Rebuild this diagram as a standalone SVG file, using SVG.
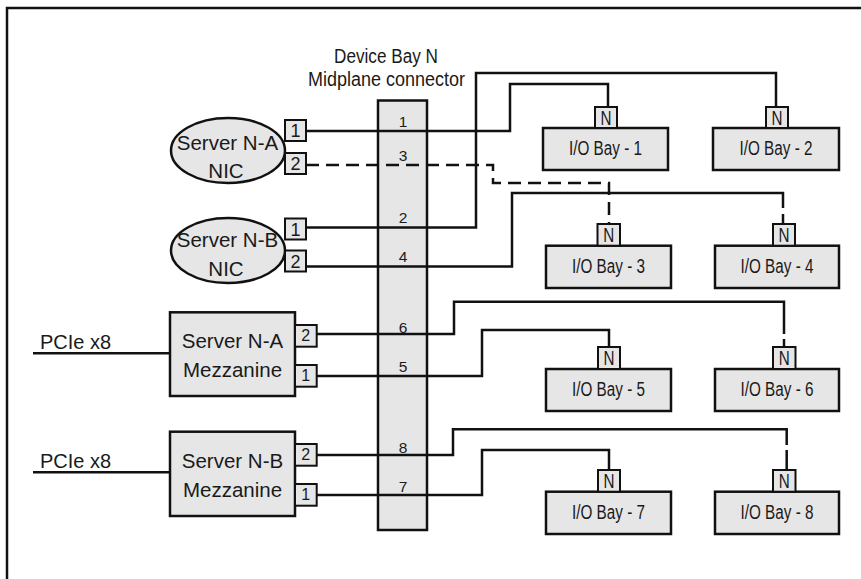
<svg xmlns="http://www.w3.org/2000/svg" width="861" height="579" viewBox="0 0 861 579">
<style>
  text { font-family: "Liberation Sans", Arial, Helvetica, sans-serif; fill: #1a1a1a; }
  .box { fill: #e6e6e6; stroke: #111; stroke-width: 2.5; }
  .port { fill: #e6e6e6; stroke: #111; stroke-width: 2; }
  .wire { fill: none; stroke: #111; stroke-width: 2.5; }
  .dash { fill: none; stroke: #111; stroke-width: 2.5; stroke-dasharray: 13 7; }
  .lbl { font-size: 20.5px; text-anchor: middle; }
  .bay { font-size: 20px; text-anchor: middle; }
  .pn { font-size: 18px; text-anchor: middle; }
  .pm { font-size: 16px; text-anchor: middle; }
  .nn { font-size: 20px; text-anchor: middle; }
  .cn { font-size: 15.5px; text-anchor: middle; }
</style>
<rect width="861" height="579" fill="#fff"/>
<path d="M7,579 V8 H861" fill="none" stroke="#111" stroke-width="2.5"/>

<g id="midplane">
  <rect class="box" x="378" y="100.5" width="49" height="429.5"/>
  <text x="386" y="62.5" font-size="20" text-anchor="middle" textLength="104" lengthAdjust="spacingAndGlyphs">Device Bay N</text>
  <text x="386.5" y="86" font-size="20" text-anchor="middle" textLength="157" lengthAdjust="spacingAndGlyphs">Midplane connector</text>
</g>

<g id="connectors">
  <path class="wire" d="M306,131 H510 V84 H608 V107"/>
  <path class="wire" d="M306,227.5 H476 V73 H776 V107"/>
  <path class="dash" d="M306,165 H493 V183 H609 V224"/>
  <path class="wire" d="M306,266.5 H512 V193 H783 V208 M783,214 V224"/>
  <path class="wire" d="M316.7,334 H454 V301.7 H784 V334 M784,339 V347"/>
  <path class="wire" d="M316.7,376 H482 V330 H609 V347"/>
  <path class="wire" d="M316.7,455 H453 V429.3 H786.7 V445 M786.7,450 V470"/>
  <path class="wire" d="M316.7,495 H482 V450 H609 V470"/>
  <path class="wire" d="M33,353.3 H170"/>
  <path class="wire" d="M33,472.3 H170"/>
</g>

<g id="midplane-numbers">
  <text class="cn" x="403" y="127">1</text>
  <text class="cn" x="403" y="161">3</text>
  <text class="cn" x="403" y="223">2</text>
  <text class="cn" x="403" y="262">4</text>
  <text class="cn" x="403" y="332.7">6</text>
  <text class="cn" x="403" y="371.7">5</text>
  <text class="cn" x="403" y="453.3">8</text>
  <text class="cn" x="403" y="491.7">7</text>
</g>

<g id="nic-a">
  <ellipse class="box" cx="228" cy="150.5" rx="57" ry="32.5"/>
  <text class="lbl" x="227.5" y="150">Server N-A</text>
  <text class="lbl" x="226" y="178">NIC</text>
  <rect class="port" x="285" y="120" width="21" height="21"/>
  <text class="pn" x="295.5" y="137">1</text>
  <rect class="port" x="285" y="153" width="21" height="21"/>
  <text class="pn" x="295.5" y="170">2</text>
</g>

<g id="nic-b">
  <ellipse class="box" cx="228" cy="250.5" rx="57" ry="32.5"/>
  <text class="lbl" x="227.5" y="247">Server N-B</text>
  <text class="lbl" x="226" y="275.5">NIC</text>
  <rect class="port" x="285" y="218.5" width="21" height="21"/>
  <text class="pn" x="295.5" y="235.5">1</text>
  <rect class="port" x="285" y="250.5" width="21" height="21"/>
  <text class="pn" x="295.5" y="267.5">2</text>
</g>

<g id="mezz-a">
  <rect class="box" x="170" y="312.3" width="125" height="83.7"/>
  <text class="lbl" x="232.5" y="348.3">Server N-A</text>
  <text class="lbl" x="232.5" y="376.7">Mezzanine</text>
  <rect class="port" x="295" y="325" width="21.7" height="21.7"/>
  <text class="pm" x="305.8" y="340.5">2</text>
  <rect class="port" x="295" y="365" width="21.7" height="21.7"/>
  <text class="pm" x="305.8" y="380.5">1</text>
  <text x="40" y="349" font-size="20">PCIe x8</text>
</g>

<g id="mezz-b">
  <rect class="box" x="170" y="431.7" width="125" height="84.3"/>
  <text class="lbl" x="232.5" y="468.3">Server N-B</text>
  <text class="lbl" x="232.5" y="496.7">Mezzanine</text>
  <rect class="port" x="295" y="444" width="21.7" height="21.7"/>
  <text class="pm" x="305.8" y="459.5">2</text>
  <rect class="port" x="295" y="484" width="21.7" height="21.7"/>
  <text class="pm" x="305.8" y="499.5">1</text>
  <text x="40" y="468" font-size="20">PCIe x8</text>
</g>

<g id="io-bay-1">
  <rect class="box" x="543" y="128" width="125" height="42"/>
  <text class="bay" x="605.5" y="155" textLength="73" lengthAdjust="spacingAndGlyphs">I/O Bay - 1</text>
  <rect class="port" x="595" y="107" width="22" height="21"/>
  <text class="nn" x="606" y="124.5" textLength="11" lengthAdjust="spacingAndGlyphs">N</text>
</g>
<g id="io-bay-2">
  <rect class="box" x="713" y="128" width="126" height="42"/>
  <text class="bay" x="776" y="155" textLength="73" lengthAdjust="spacingAndGlyphs">I/O Bay - 2</text>
  <rect class="port" x="766" y="107" width="22" height="21"/>
  <text class="nn" x="777" y="124.5" textLength="11" lengthAdjust="spacingAndGlyphs">N</text>
</g>
<g id="io-bay-3">
  <rect class="box" x="546" y="245.7" width="125" height="42.3"/>
  <text class="bay" x="608.5" y="272.7" textLength="73" lengthAdjust="spacingAndGlyphs">I/O Bay - 3</text>
  <rect class="port" x="597.5" y="224" width="22.5" height="21.7"/>
  <text class="nn" x="608.7" y="242" textLength="11" lengthAdjust="spacingAndGlyphs">N</text>
</g>
<g id="io-bay-4">
  <rect class="box" x="715" y="245.7" width="124" height="42.3"/>
  <text class="bay" x="777" y="272.7" textLength="73" lengthAdjust="spacingAndGlyphs">I/O Bay - 4</text>
  <rect class="port" x="773" y="224" width="22" height="21.7"/>
  <text class="nn" x="784" y="242" textLength="11" lengthAdjust="spacingAndGlyphs">N</text>
</g>
<g id="io-bay-5">
  <rect class="box" x="546" y="369" width="125" height="42"/>
  <text class="bay" x="608.5" y="396" textLength="73" lengthAdjust="spacingAndGlyphs">I/O Bay - 5</text>
  <rect class="port" x="598" y="347" width="22" height="22"/>
  <text class="nn" x="609" y="365" textLength="11" lengthAdjust="spacingAndGlyphs">N</text>
</g>
<g id="io-bay-6">
  <rect class="box" x="715" y="369" width="124" height="42"/>
  <text class="bay" x="777" y="396" textLength="73" lengthAdjust="spacingAndGlyphs">I/O Bay - 6</text>
  <rect class="port" x="773" y="347" width="22.5" height="22"/>
  <text class="nn" x="784.2" y="365" textLength="11" lengthAdjust="spacingAndGlyphs">N</text>
</g>
<g id="io-bay-7">
  <rect class="box" x="546" y="491.7" width="125" height="42.3"/>
  <text class="bay" x="608.5" y="518.7" textLength="73" lengthAdjust="spacingAndGlyphs">I/O Bay - 7</text>
  <rect class="port" x="598" y="470" width="22" height="21.7"/>
  <text class="nn" x="609" y="488" textLength="11" lengthAdjust="spacingAndGlyphs">N</text>
</g>
<g id="io-bay-8">
  <rect class="box" x="715" y="491.7" width="124" height="42.3"/>
  <text class="bay" x="777" y="518.7" textLength="73" lengthAdjust="spacingAndGlyphs">I/O Bay - 8</text>
  <rect class="port" x="773" y="470" width="22.5" height="21.7"/>
  <text class="nn" x="784.2" y="488" textLength="11" lengthAdjust="spacingAndGlyphs">N</text>
</g>
</svg>
